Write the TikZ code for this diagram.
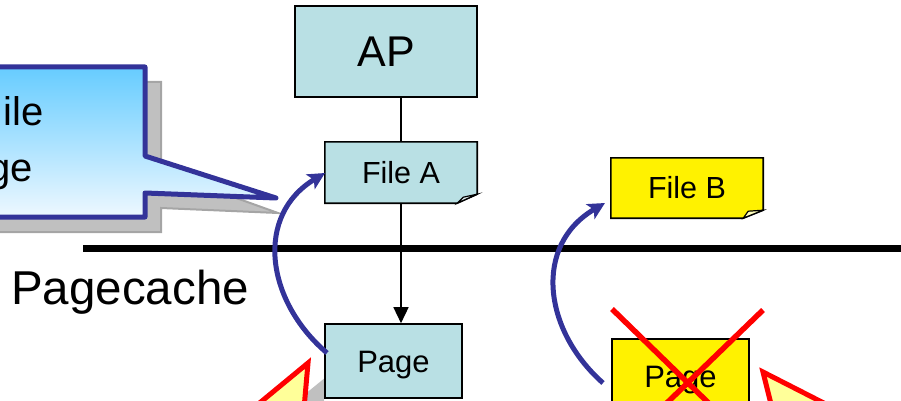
\documentclass[tikz,border=0pt]{standalone}
\usepackage{fontspec}
\setmainfont{Liberation Sans}
\usetikzlibrary{arrows.meta}
\definecolor{tealfill}{RGB}{185,224,228}
\definecolor{flapfill}{RGB}{225,240,242}
\definecolor{flapyellow}{RGB}{255,255,190}
\definecolor{navy}{RGB}{51,51,153}
\definecolor{skytop}{RGB}{102,204,255}
\definecolor{skybottom}{RGB}{238,248,255}
\definecolor{warnfill}{RGB}{255,255,153}
\definecolor{shadefill}{RGB}{192,192,192}
\definecolor{shadeedge}{RGB}{165,165,165}
\pgfdeclarelayer{background}
\pgfsetlayers{background,main}
\begin{document}
\begin{tikzpicture}[x=1pt,y=-1pt,
  plainbox/.style={draw=black, line width=1.6pt, inner sep=0pt},
  bigtxt/.style={font=\fontsize{43}{50}\selectfont, text height=30.8pt, text depth=0pt},
  midtxt/.style={font=\fontsize{30.5}{36}\selectfont, text height=21.8pt, text depth=0pt},
  pagetxt/.style={font=\fontsize{31}{37}\selectfont, text height=22.2pt, text depth=0pt},
  calltxt/.style={font=\fontsize{40}{48}\selectfont, inner sep=0pt, anchor=base east},
  flow/.style={draw=black, line width=1.5pt},
  maparc/.style={draw=navy, line width=5pt, -{Stealth[length=17pt,width=17pt,inset=4pt]}},
  cross/.style={draw=red, line width=5.5pt},
  warn/.style={draw=red, line width=5pt, fill=warnfill, line join=miter},
  shade/.style={fill=shadefill, draw=shadeedge, line width=2pt},
  outline/.style={draw=black, line width=1.6pt, line join=miter}
]
\useasboundingbox (0,0) rectangle (901,401);
\clip (0,0) rectangle (901,401);

% speech callout on the left, with its drop shadow
\path[shade] (-10,82) -- (161,82) -- (161,171) -- (278,213) -- (161,208)
  -- (161,232) -- (-10,232) -- cycle;
\path[draw=navy, line width=5pt, line join=round, top color=skytop, bottom color=skybottom]
  (-10,67) -- (145,67) -- (145,156) -- (276,198) -- (145,193)
  -- (145,217) -- (-10,217) -- cycle;
\node[calltxt] (callA) at (44,125) {ile};
\node[calltxt] (callB) at (33,181) {ge};

% separator between file layer and page cache
\draw[line width=7pt] (83,248) -- (905,248);
\node[font=\fontsize{47.5}{56}\selectfont, inner sep=0pt, anchor=base west] (pc) at (11,304) {Pagecache};

% application and files
\node[plainbox, fill=tealfill, bigtxt, minimum width=182pt, minimum height=91pt] (ap) at (386,51.5) {AP};
\node[midtxt, inner sep=0pt, minimum width=152pt, minimum height=61pt] (fa) at (401,172.5) {File A};
\node[midtxt, inner sep=0pt, minimum width=152pt, minimum height=60pt] (fb) at (687,188) {File B};

\begin{pgfonlayer}{background}
  \path[outline, fill=tealfill] (fa.north west) -- (fa.north east) -- ([yshift=9pt]fa.south east)
    -- ([xshift=-20pt]fa.south east) -- (fa.south west) -- cycle;
  \path[outline, line width=1.2pt, fill=flapfill] ([xshift=-20pt]fa.south east)
    -- ([xshift=-14pt,yshift=6pt]fa.south east) -- ([yshift=9pt]fa.south east) -- cycle;
  \path[outline, fill=yellow] (fb.north west) -- (fb.north east) -- ([yshift=8pt]fb.south east)
    -- ([xshift=-20pt]fb.south east) -- (fb.south west) -- cycle;
  \path[outline, line width=1.2pt, fill=flapyellow] ([xshift=-20pt]fb.south east)
    -- ([xshift=-15pt,yshift=7pt]fb.south east) -- ([yshift=8pt]fb.south east) -- cycle;
\end{pgfonlayer}

% warning callout shadow sits behind the cached page
\path[shade, draw=none] (326,377) -- (255,435) -- (321,435) -- cycle;

% pages in the cache
\node[plainbox, fill=tealfill, pagetxt, minimum width=137pt, minimum height=74pt] (pg) at (393.5,361) {Page};
\node[plainbox, fill=yellow, pagetxt, minimum width=137pt, minimum height=74pt] (pgb) at (680.5,376) {Page};

% flow from AP to the file and down to its page
\draw[flow] (fa.north |- ap.south) -- (fa.north);
\draw[flow, -{Triangle[length=16pt,width=15pt]}] (fa.south) -- (fa.south |- pg.north);

% page-to-file mapping arcs
\coordinate (pgw) at (327,353);
\coordinate (faw) at (325,173);
\coordinate (pgbw) at (603,383);
\coordinate (fbw) at (605,203);
\draw[maparc] (pgw) .. controls (265,300) and (255,215) .. (faw);
\draw[maparc] (pgbw) .. controls (543,330) and (533,245) .. (fbw);

% crossed-out page
\coordinate (xa) at (612,309);
\coordinate (xb) at (763,310);
\coordinate (xc) at (763,456);
\coordinate (xd) at (612,456);
\draw[cross] (xa) -- (xc);
\draw[cross] (xb) -- (xd);

% warning pointers rising from below
\path[warn] (308,363) -- (239,420) -- (303,420) -- cycle;
\path[warn] (763,372) -- (775,420) -- (857,420) -- cycle;
\end{tikzpicture}
\end{document}
